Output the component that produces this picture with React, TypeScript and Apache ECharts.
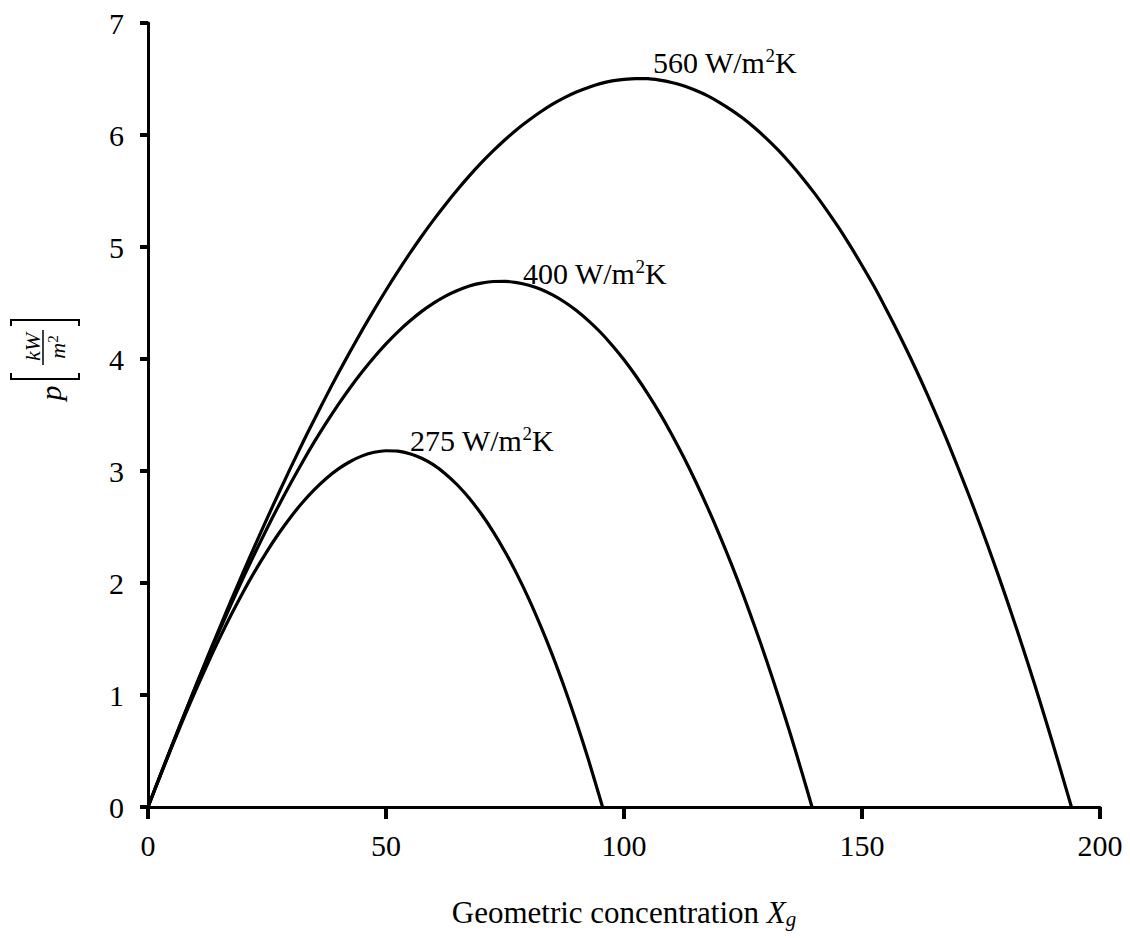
import React, { useEffect, useRef } from "react";
import * as echarts from "echarts";

const xTicks = [0, 50, 100, 150, 200];
const yTicks = [0, 1, 2, 3, 4, 5, 6, 7];

const x560 = [0, 2.5, 5, 7.5, 10, 12.5, 15, 17.5, 20, 22.5, 25, 27.5, 30, 32.5, 35, 37.5, 40, 42.5, 45, 47.5, 50, 52.5, 55, 57.5, 60, 62.5, 65, 67.5, 70, 72.5, 75, 77.5, 80, 82.5, 85, 87.5, 90, 92.5, 95, 97.5, 100, 102.5, 105, 107.5, 110, 112.5, 115, 117.5, 120, 122.5, 125, 127.5, 130, 132.5, 135, 137.5, 140, 142.5, 145, 147.5, 150, 152.5, 155, 157.5, 160, 162.5, 165, 167.5, 170, 172.5, 175, 177.5, 180, 182.5, 185, 187.5, 190, 192.5, 194];
const p560 = [0, 0.274, 0.546, 0.814, 1.079, 1.34, 1.596, 1.849, 2.096, 2.338, 2.575, 2.806, 3.032, 3.252, 3.465, 3.673, 3.875, 4.069, 4.258, 4.439, 4.614, 4.782, 4.943, 5.096, 5.242, 5.38, 5.511, 5.635, 5.751, 5.858, 5.958, 6.05, 6.132, 6.208, 6.276, 6.334, 6.384, 6.425, 6.459, 6.483, 6.497, 6.504, 6.503, 6.49, 6.469, 6.439, 6.399, 6.351, 6.292, 6.225, 6.149, 6.062, 5.965, 5.86, 5.743, 5.617, 5.481, 5.334, 5.179, 5.012, 4.835, 4.651, 4.451, 4.244, 4.027, 3.799, 3.56, 3.312, 3.049, 2.779, 2.498, 2.206, 1.903, 1.589, 1.263, 0.927, 0.578, 0.218, 0];

const x400 = [0, 2.5, 5, 7.5, 10, 12.5, 15, 17.5, 20, 22.5, 25, 27.5, 30, 32.5, 35, 37.5, 40, 42.5, 45, 47.5, 50, 52.5, 55, 57.5, 60, 62.5, 65, 67.5, 70, 72.5, 75, 77.5, 80, 82.5, 85, 87.5, 90, 92.5, 95, 97.5, 100, 102.5, 105, 107.5, 110, 112.5, 115, 117.5, 120, 122.5, 125, 127.5, 130, 132.5, 135, 137.5, 139.5];
const p400 = [0, 0.275, 0.545, 0.811, 1.072, 1.326, 1.573, 1.813, 2.046, 2.27, 2.487, 2.695, 2.893, 3.083, 3.264, 3.434, 3.595, 3.746, 3.886, 4.016, 4.135, 4.243, 4.339, 4.425, 4.499, 4.562, 4.612, 4.651, 4.677, 4.692, 4.693, 4.682, 4.658, 4.623, 4.572, 4.509, 4.433, 4.343, 4.241, 4.123, 3.993, 3.848, 3.689, 3.517, 3.329, 3.127, 2.911, 2.68, 2.435, 2.175, 1.899, 1.607, 1.302, 0.981, 0.645, 0.291, 0];

const x275 = [0, 2.5, 5, 7.5, 10, 12.5, 15, 17.5, 20, 22.5, 25, 27.5, 30, 32.5, 35, 37.5, 40, 42.5, 45, 47.5, 50, 52.5, 55, 57.5, 60, 62.5, 65, 67.5, 70, 72.5, 75, 77.5, 80, 82.5, 85, 87.5, 90, 92.5, 95.5];
const p275 = [0, 0.271, 0.536, 0.793, 1.04, 1.277, 1.503, 1.718, 1.92, 2.108, 2.283, 2.444, 2.59, 2.721, 2.836, 2.936, 3.019, 3.085, 3.135, 3.167, 3.181, 3.177, 3.154, 3.114, 3.054, 2.974, 2.875, 2.757, 2.618, 2.459, 2.279, 2.079, 1.858, 1.614, 1.351, 1.064, 0.757, 0.426, 0];

const curveLabels = ["560 W/m{s|2}K", "400 W/m{s|2}K", "275 W/m{s|2}K"];

const FONT = "'Liberation Serif', 'DejaVu Serif', serif";

function zip(xs: number[], ys: number[]) {
  return xs.map((x, i) => [x, ys[i]]);
}

export default function App() {
  const ref = useRef<HTMLDivElement>(null);
  useEffect(() => {
    const chart = echarts.init(ref.current!, null, { renderer: "svg" });
    const lineSeries = (name: string, data: number[][]) => ({
      name,
      type: "line",
      data,
      showSymbol: false,
      symbol: "none",
      smooth: 0.3,
      silent: true,
      lineStyle: { color: "#000", width: 3.2, join: "round", cap: "round" },
    });
    const labelText = (text: string, x: number, y: number) => ({
      type: "text",
      x,
      y,
      style: {
        text,
        fill: "#000",
        font: `30px ${FONT}`,
        verticalAlign: "middle",
        align: "left",
        rich: {
          s: { fontSize: 19, fontFamily: FONT, verticalAlign: "top", padding: [0, 0, 13, 0] },
        },
      },
    });
    chart.setOption({
      animation: false,
      backgroundColor: "#fff",
      grid: { left: 148, right: 30, top: 23, bottom: 131, containLabel: false, outerBoundsMode: "none" },
      xAxis: {
        type: "value",
        min: xTicks[0],
        max: xTicks[xTicks.length - 1],
        interval: 50,
        name: "Geometric concentration {i|X}{sub|g}",
        nameLocation: "middle",
        nameGap: 89,
        nameTextStyle: {
          fontFamily: FONT,
          fontSize: 31,
          color: "#000",
          rich: {
            i: { fontFamily: FONT, fontSize: 31, fontStyle: "italic", color: "#000" },
            sub: { fontFamily: FONT, fontSize: 21, fontStyle: "italic", color: "#000", verticalAlign: "bottom", padding: [12, 0, 0, 0] },
          },
        },
        axisLine: { lineStyle: { color: "#000", width: 3 } },
        axisTick: { length: 12, lineStyle: { color: "#000", width: 4 } },
        axisLabel: { color: "#000", fontFamily: FONT, fontSize: 30, margin: 23 },
        splitLine: { show: false },
      },
      yAxis: {
        type: "value",
        min: yTicks[0],
        max: yTicks[yTicks.length - 1],
        interval: 1,
        axisLine: { lineStyle: { color: "#000", width: 3 } },
        axisTick: { length: 8, lineStyle: { color: "#000", width: 4 } },
        axisLabel: { color: "#000", fontFamily: FONT, fontSize: 30, margin: 24 },
        splitLine: { show: false },
      },
      series: [
        lineSeries("560", zip(x560, p560)),
        lineSeries("400", zip(x400, p400)),
        lineSeries("275", zip(x275, p275)),
      ],
      graphic: [
        labelText(curveLabels[0], 653, 62),
        labelText(curveLabels[1], 523, 273),
        labelText(curveLabels[2], 410, 440),
        {
          type: "group",
          children: [
            {
              type: "text",
              x: 50,
              y: 393,
              rotation: Math.PI / 2,
              style: { text: "p", fill: "#000", font: `italic 30px ${FONT}`, align: "center", verticalAlign: "middle" },
            },
            {
              type: "polyline",
              shape: { points: [[11, 373], [11, 379], [79, 379], [79, 373]] },
              style: { stroke: "#000", lineWidth: 2, fill: null },
            },
            {
              type: "polyline",
              shape: { points: [[11, 326], [11, 320], [79, 320], [79, 326]] },
              style: { stroke: "#000", lineWidth: 2, fill: null },
            },
            {
              type: "line",
              shape: { x1: 43, y1: 330, x2: 43, y2: 365 },
              style: { stroke: "#000", lineWidth: 1.5 },
            },
            {
              type: "text",
              x: 32,
              y: 347,
              rotation: Math.PI / 2,
              style: { text: "kW", fill: "#000", font: `italic 22px ${FONT}`, align: "center", verticalAlign: "middle" },
            },
            {
              type: "text",
              x: 57,
              y: 347,
              rotation: Math.PI / 2,
              style: {
                text: "m{s|2}",
                fill: "#000",
                font: `italic 22px ${FONT}`,
                align: "center",
                verticalAlign: "middle",
                rich: { s: { fontSize: 15, fontFamily: FONT, verticalAlign: "top", padding: [0, 0, 9, 0] } },
              },
            },
          ],
        },
      ],
    });
    return () => chart.dispose();
  }, []);
  return (
    <div
      ref={ref}
      style={{ position: "fixed", left: 0, top: 0, width: 1130, height: 938, background: "#fff" }}
    />
  );
}
